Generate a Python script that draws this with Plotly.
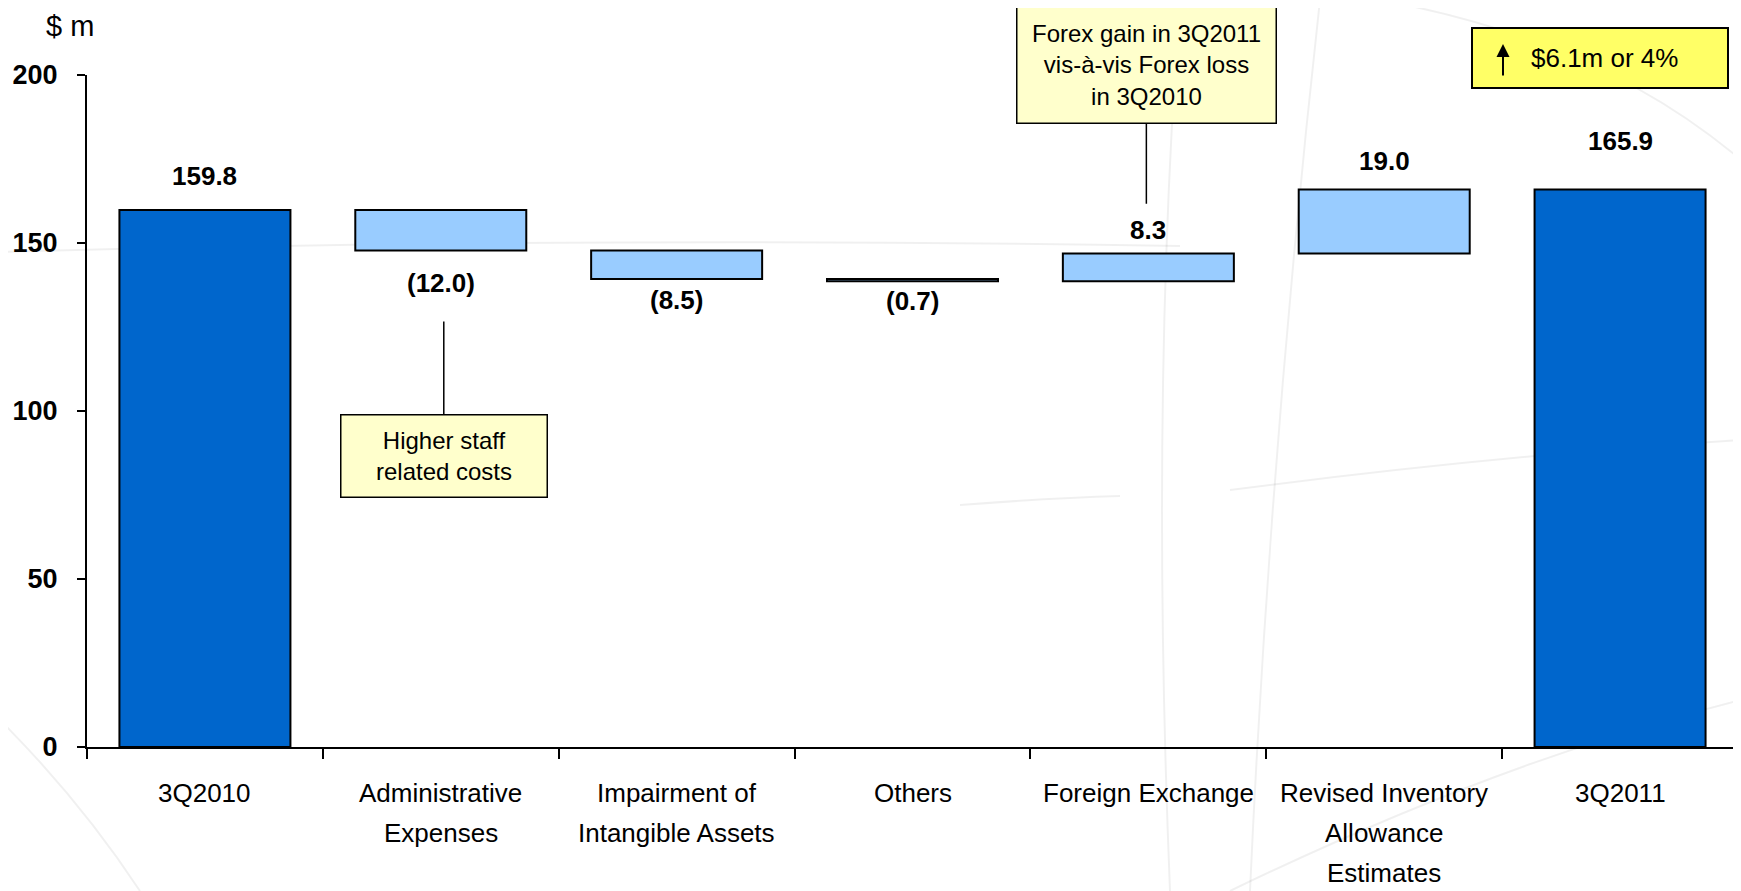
import plotly.graph_objects as go
import numpy as np

# ---------------- data ----------------
categories = ["3Q2010", "Administrative Expenses", "Impairment of Intangible Assets",
              "Others", "Foreign Exchange", "Revised Inventory Allowance Estimates", "3Q2011"]
tick_labels = ["3Q2010", "Administrative<br>Expenses", "Impairment of<br>Intangible Assets",
               "Others", "Foreign Exchange", "Revised Inventory<br>Allowance<br>Estimates", "3Q2011"]
measures = ["absolute", "relative", "relative", "relative", "relative", "relative", "total"]
values = [159.8, -12.0, -8.5, -0.7, 8.3, 19.0, 165.9]
y_ticks = [0, 50, 100, 150, 200]
unit_label = "$ m"
callout_admin = "Higher staff<br>related costs"
callout_fx = "Forex gain in 3Q2011<br>vis-à-vis Forex loss<br>in 3Q2010"
summary_text = "$6.1m or 4%"

# ---------------- style ----------------
OFF = 8  # page body margin
W, H = 1733, 883
ML, MR, MT, MB = 79, 3, 67, 144
PW, PH = W - ML - MR, H - MT - MB
FONT = "Liberation Sans, Arial, Helvetica, sans-serif"
DARK = "#0066CC"
LIGHT = "#99CCFF"
label_offsets = [34, -33, -21, -20, 23, 29, 49]


def px(x):
    # page pixel x -> paper coordinate
    return (x - OFF - ML) / PW


def py(y):
    # page pixel y -> paper coordinate
    return (H - MB - (y - OFF)) / PH


fig = go.Figure()

# faint decorative background curves
bg_paths = [
    "M {} {} Q {} {} {} {}".format(px(0), py(252), px(600), py(236), px(1180), py(246)),
    "M {} {} Q {} {} {} {}".format(px(1230), py(490), px(1500), py(455), px(1741), py(440)),
    "M {} {} Q {} {} {} {}".format(px(1320), py(0), px(1270), py(450), px(1250), py(891)),
    "M {} {} Q {} {} {} {}".format(px(1180), py(0), px(1150), py(400), px(1170), py(891)),
    "M {} {} Q {} {} {} {}".format(px(1380), py(0), px(1600), py(40), px(1741), py(160)),
    "M {} {} Q {} {} {} {}".format(px(0), py(720), px(80), py(800), px(140), py(891)),
    "M {} {} Q {} {} {} {}".format(px(1230), py(891), px(1500), py(760), px(1741), py(700)),
    "M {} {} Q {} {} {} {}".format(px(960), py(505), px(1050), py(498), px(1120), py(496)),
]
for p in bg_paths:
    fig.add_shape(type="path", path=p, xref="paper", yref="paper",
                  line=dict(color="rgba(0,0,0,0.06)", width=2), layer="below")

fig.add_trace(go.Waterfall(
    x=categories,
    y=values,
    measure=measures,
    width=0.725,
    textinfo="none",
    hoverinfo="skip",
    connector=dict(visible=False),
    increasing=dict(marker=dict(color=LIGHT, line=dict(color="black", width=2))),
    decreasing=dict(marker=dict(color=LIGHT, line=dict(color="black", width=2))),
    totals=dict(marker=dict(color=DARK, line=dict(color="black", width=2))),
))

# value labels
running = 0.0
annotations = []
for i, (m, v) in enumerate(zip(measures, values)):
    if m == "absolute":
        running = v
        edge = v
        txt = f"{v:.1f}"
    elif m == "total":
        edge = running
        txt = f"{running:.1f}"
    else:
        start = running
        running = running + v
        edge = min(start, running) if v < 0 else max(start, running)
        txt = f"({abs(v):.1f})" if v < 0 else f"{v:.1f}"
    annotations.append(dict(
        x=categories[i], y=edge, xref="x", yref="y", text=txt, showarrow=False,
        yshift=label_offsets[i], yanchor="middle", xanchor="center",
        font=dict(family=FONT, size=26, color="black", weight="bold")))

# category labels (one annotation per line for wider line spacing)
for i, lab in enumerate(tick_labels):
    for j, line in enumerate(lab.split("<br>")):
        annotations.append(dict(
            x=categories[i], y=0, xref="x", yref="paper", text=line, showarrow=False,
            yshift=-(46 + 40 * j), yanchor="middle", xanchor="center",
            font=dict(family=FONT, size=26, color="black")))

# unit label
annotations.append(dict(x=px(70), y=py(26), xref="paper", yref="paper", text=unit_label,
                        showarrow=False, xanchor="center", yanchor="middle",
                        font=dict(family=FONT, size=29, color="black")))

# callout boxes with leader lines
annotations.append(dict(
    x=categories[1], y=126.6, xref="x", yref="y", text=callout_admin,
    showarrow=True, arrowhead=0, arrowwidth=1.5, arrowcolor="black",
    ax=0, ay=134, xshift=3, standoff=0,
    bgcolor="#FFFFCC", bordercolor="black", borderwidth=1.5, borderpad=0,
    width=205, height=81, align="center",
    font=dict(family=FONT, size=24, color="black")))
annotations.append(dict(
    x=categories[4], y=161.7, xref="x", yref="y", text=callout_fx,
    showarrow=True, arrowhead=0, arrowwidth=1.5, arrowcolor="black",
    ax=0, ay=-138.5, xshift=-2, standoff=0,
    bgcolor="#FFFFCC", bordercolor="black", borderwidth=1.5, borderpad=0,
    width=258, height=115, align="center",
    font=dict(family=FONT, size=24, color="black")))

# summary box
fig.add_shape(type="rect", xref="paper", yref="paper",
              x0=px(1472), x1=px(1728), y0=py(88), y1=py(28),
              fillcolor="#FFFF66", line=dict(color="black", width=2), layer="above")
annotations.append(dict(x=px(1604), y=py(58), xref="paper", yref="paper", text=summary_text,
                        showarrow=False, xanchor="center", yanchor="middle",
                        font=dict(family=FONT, size=26, color="black")))
annotations.append(dict(x=px(1503), y=py(44), xref="paper", yref="paper", text="",
                        showarrow=True, arrowhead=2, arrowsize=1.3, arrowwidth=2,
                        arrowcolor="black", ax=0, ay=33, standoff=0))

fig.update_layout(
    width=W, height=H,
    margin=dict(l=ML, r=MR, t=MT, b=MB),
    paper_bgcolor="white", plot_bgcolor="rgba(0,0,0,0)",
    showlegend=False,
    annotations=annotations,
    font=dict(family=FONT),
    xaxis=dict(type="category", range=[-0.5, 6.5], showline=True, linecolor="black",
               linewidth=2, ticks="outside", tickson="boundaries", ticklen=10,
               tickwidth=2, tickcolor="black", showticklabels=False, showgrid=False,
               zeroline=False, fixedrange=True),
    yaxis=dict(range=[0, 200], tickvals=y_ticks, showline=True, linecolor="black",
               linewidth=2, ticks="outside", ticklen=8, tickwidth=2, tickcolor="black",
               showgrid=False, zeroline=False, ticklabelstandoff=14,
               tickfont=dict(family=FONT, size=27, color="black", weight="bold"),
               fixedrange=True),
)

fig.write_html("out.html")
